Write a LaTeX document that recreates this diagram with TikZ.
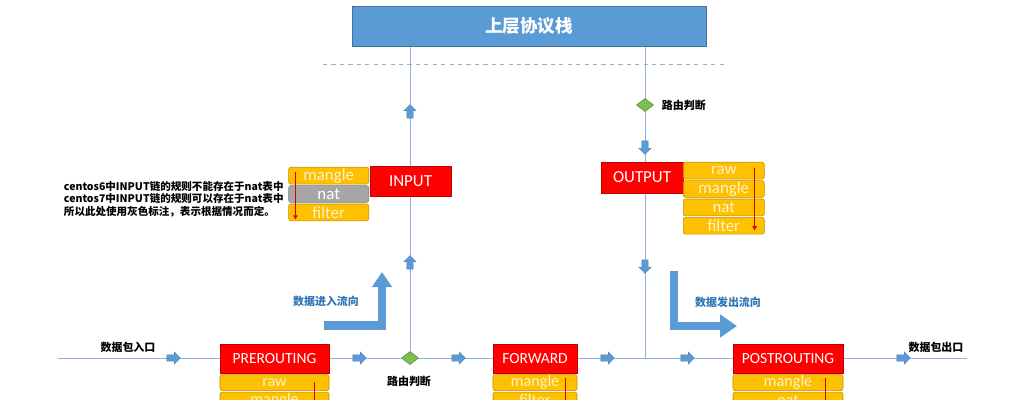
\documentclass[tikz,border=0pt]{standalone}
\usepackage{fontspec}
\setmainfont{Carlito}
\newfontfamily\cjk{Noto Sans CJK SC}
\usetikzlibrary{shapes.geometric, shapes.arrows, arrows.meta, positioning, backgrounds}

\definecolor{linecol}{RGB}{143,177,219}
\definecolor{stackblue}{RGB}{91,155,213}
\definecolor{stackedge}{RGB}{65,113,156}
\definecolor{chainred}{RGB}{255,0,0}
\definecolor{chainedge}{RGB}{192,0,0}
\definecolor{tblfill}{RGB}{255,192,0}
\definecolor{tbledge}{RGB}{191,144,0}
\definecolor{tbltext}{RGB}{255,242,204}
\definecolor{tblgray}{RGB}{166,166,166}
\definecolor{routegreen}{RGB}{125,190,80}
\definecolor{flowblue}{RGB}{46,117,182}

\begin{document}
\begin{tikzpicture}[x=0.025cm, y=-0.025cm,
    stackbox/.style={rectangle, draw=stackedge, fill=stackblue, text=white, minimum width=8.85cm, minimum height=1.0cm, font=\cjk\bfseries\fontsize{12.5}{14}\selectfont},
    chain/.style={rectangle, draw=chainedge, fill=chainred, text=white, inner sep=0pt, minimum height=0.725cm, font=\fontsize{11}{12}\selectfont},
    tbl/.style={rectangle, rounded corners=1.5pt, draw=tbledge, fill=tblfill, text=tbltext, inner sep=0pt, minimum height=0.4cm, font=\fontsize{11.5}{12}\selectfont},
    graytbl/.style={tbl, fill=tblgray, draw=tblgray!75!black, text=white},
    route/.style={diamond, fill=routegreen, draw=routegreen!75!black, inner sep=0pt, minimum width=0.43cm, minimum height=0.33cm},
    blk/.style={single arrow, fill=stackblue, draw=stackblue!80!black, line width=0.3pt, inner sep=0pt, text height=0.075cm, text depth=0.075cm, minimum height=0.34cm, single arrow head extend=0.07cm},
    note/.style={font=\cjk\bfseries\fontsize{7.8}{9}\selectfont},
    flowlbl/.style={note, text=flowblue},
    flow/.style={draw=linecol, line width=0.7pt},
    bigflow/.style={draw=stackblue, line width=0.2cm, line join=miter},
    order/.style={draw=chainred!85!black, line width=0.6pt, -{Triangle[length=3pt, width=3pt]}}]

    % Frame
    \useasboundingbox (0,0) rectangle (1035,400);
    \clip (0,0) rectangle (1035,400);

    % Upper stack
    \node[stackbox] (stack) at (529,26) {上层协议栈};
    \coordinate (dashl) at (323,64);
    \coordinate (dashr) at (725,64);
    \draw[draw=linecol, dashed] (dashl) -- (dashr);

    % Routing decisions
    \node[route] (route1) at (410,358) {};
    \node[note] (route1lbl) at (409,381) {路由判断};
    \node[route] (route2) at (645,105) {};
    \node[note, anchor=west] (route2lbl) at (657,105) {路由判断};

    % Chains
    \node[chain, minimum width=2.725cm] (pre) at (274.5,358.5) {PREROUTING};
    \node[chain, minimum width=2.1cm] (fwd) at (535,358.5) {FORWARD};
    \node[chain, minimum width=2.75cm] (post) at (788,358.5) {POSTROUTING};
    \node[chain, minimum width=2.025cm, minimum height=0.75cm, font=\fontsize{12}{13}\selectfont] (inp) at (410.5,181) {INPUT};
    \node[chain, minimum width=2.05cm, minimum height=0.775cm, font=\fontsize{12}{13}\selectfont] (outp) at (642,177.5) {OUTPUT};

    % Tables of INPUT
    \node[tbl, minimum width=2.0cm, minimum height=0.42cm, anchor=north east, font=\fontsize{12}{13}\selectfont] (inmangle) at (369,167) {mangle};
    \node[graytbl, minimum width=2.0cm, minimum height=0.42cm, below=0.025cm of inmangle, font=\fontsize{12}{13}\selectfont] (innat) {nat};
    \node[tbl, minimum width=2.0cm, minimum height=0.42cm, below=0.025cm of innat, font=\fontsize{12}{13}\selectfont] (infilter) {filter};
    \draw[order] ([xshift=0.175cm, yshift=-0.12cm]inmangle.north west) -- ([xshift=0.175cm, yshift=0.04cm]infilter.south west);

    % Tables of OUTPUT
    \node[tbl, minimum width=2.025cm, minimum height=0.42cm, anchor=north west, font=\fontsize{12}{13}\selectfont] (outraw) at (683,162) {raw};
    \node[tbl, minimum width=2.025cm, minimum height=0.42cm, below=0.025cm of outraw, font=\fontsize{12}{13}\selectfont] (outmangle) {mangle};
    \node[tbl, minimum width=2.025cm, minimum height=0.42cm, below=0.025cm of outmangle, font=\fontsize{12}{13}\selectfont] (outnat) {nat};
    \node[tbl, minimum width=2.025cm, minimum height=0.42cm, below=0.025cm of outnat, font=\fontsize{12}{13}\selectfont] (outfilter) {filter};
    \draw[order] ([xshift=-0.25cm, yshift=-0.15cm]outraw.north east) -- ([xshift=-0.25cm, yshift=0.1cm]outfilter.south east);

    % Tables of the lower chains
    \node[tbl, minimum width=2.725cm, below=0.025cm of pre] (preraw) {raw};
    \node[tbl, minimum width=2.725cm, below=0.025cm of preraw] (premangle) {mangle};
    \draw[order] ([xshift=-0.375cm, yshift=-0.2cm]preraw.north east) -- ([xshift=-0.375cm, yshift=0.05cm]premangle.south east);
    \node[tbl, minimum width=2.1cm, below=0.025cm of fwd] (fwdmangle) {mangle};
    \node[tbl, minimum width=2.1cm, below=0.025cm of fwdmangle] (fwdfilter) {filter};
    \draw[order] ([xshift=-0.3cm, yshift=-0.1cm]fwdmangle.north east) -- ([xshift=-0.3cm, yshift=0.1cm]fwdfilter.south east);
    \node[tbl, minimum width=2.75cm, below=0.025cm of post] (postmangle) {mangle};
    \node[tbl, minimum width=2.75cm, below=0.025cm of postmangle] (postnat) {nat};
    \draw[order] ([xshift=-0.45cm, yshift=-0.1cm]postmangle.north east) -- ([xshift=-0.45cm, yshift=0.1cm]postnat.south east);

    % Small flow arrows
    \node[blk] (step1) at (172,358) {};
    \node[blk] (step2) at (358,358) {};
    \node[blk] (step3) at (457,358) {};
    \node[blk] (step4) at (606,358) {};
    \node[blk] (step5) at (686,358) {};
    \node[blk] (step6) at (902,358) {};
    \node[blk, rotate=90] (up1) at (410,113) {};
    \node[blk, rotate=90] (up2) at (410,264) {};
    \node[blk, rotate=-90] (down1) at (645,146) {};
    \node[blk, rotate=-90] (down2) at (645,265) {};

    % Direction arrows
    \coordinate (inA) at (324,325.5);
    \coordinate (inB) at (382,325.5);
    \coordinate (inC) at (382,272);
    \draw[bigflow, -{Triangle[width=0.48cm, length=0.375cm]}] (inA) -- (inB) -- (inC);
    \coordinate (outA) at (674,271);
    \coordinate (outB) at (674,326);
    \coordinate (outC) at (737,326);
    \draw[bigflow, -{Triangle[width=0.55cm, length=0.42cm]}] (outA) -- (outB) -- (outC);

    % Labels
    \node[note] (entry) at (128,347) {数据包入口};
    \node[note] (exit) at (936,347) {数据包出口};
    \node[flowlbl] (inlbl) at (326,301) {数据进入流向};
    \node[flowlbl] (outlbl) at (728,302) {数据发出流向};
    \node[note, align=left, anchor=west, font=\cjk\bfseries\fontsize{7.5}{8.9}\selectfont] (remark) at (59,199) {centos6中INPUT链的规则不能存在于nat表中\\centos7中INPUT链的规则可以存在于nat表中\\所以此处使用灰色标注，表示根据情况而定。};

    % Connectors
    \begin{scope}[on background layer]
      \coordinate (inlet) at (58,358);
      \coordinate (outlet) at (967,358);
      \coordinate (join) at (645,358);
      \draw[flow] (inlet) -- (outlet);
      \draw[flow] (route1) -- (route1 |- stack.south);
      \draw[flow] (stack.south -| join) -- (join);
    \end{scope}
\end{tikzpicture}
\end{document}
